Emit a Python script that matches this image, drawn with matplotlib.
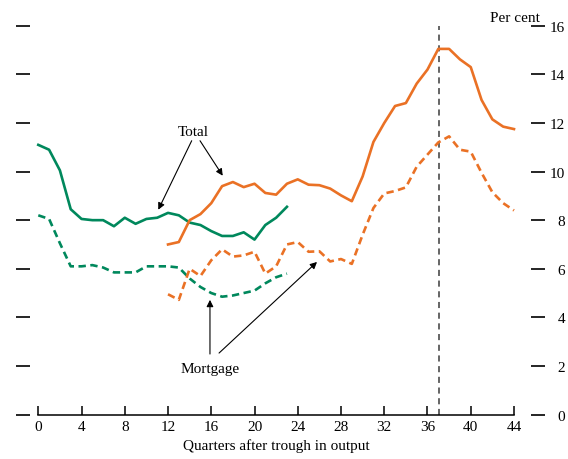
import matplotlib
matplotlib.use('Agg')
import matplotlib.pyplot as plt

plt.rcParams['font.family'] = ['Liberation Serif', 'DejaVu Serif']
plt.rcParams['font.size'] = 11

# first episode (green), quarters 0-23
q_first = list(range(0, 24))
total_first = [11.1, 10.9, 10.05, 8.45, 8.05, 8.0, 8.0, 7.75, 8.1, 7.85, 8.05, 8.1,
               8.3, 8.2, 7.9, 7.8, 7.55, 7.35, 7.35, 7.5, 7.2, 7.8, 8.1, 8.55]
mortgage_first = [8.2, 8.05, 7.05, 6.1, 6.1, 6.15, 6.05, 5.85, 5.85, 5.85, 6.1, 6.1,
                  6.1, 6.05, 5.6, 5.25, 5.0, 4.85, 4.9, 5.0, 5.1, 5.4, 5.65, 5.8]

# second episode (orange), quarters 12-44
q_second = list(range(12, 45))
total_second = [7.0, 7.1, 8.0, 8.25, 8.7, 9.4, 9.57, 9.36, 9.5, 9.12, 9.05, 9.5,
                9.68, 9.46, 9.44, 9.3, 9.02, 8.78, 9.8, 11.22, 12.0, 12.7, 12.82,
                13.62, 14.2, 15.05, 15.05, 14.62, 14.3, 12.95, 12.15, 11.85, 11.75]
mortgage_second = [4.95, 4.72, 6.0, 5.7, 6.35, 6.8, 6.5, 6.55, 6.7, 5.8, 6.1, 7.0,
                   7.1, 6.7, 6.72, 6.3, 6.4, 6.2, 7.4, 8.5, 9.1, 9.2, 9.35, 10.2,
                   10.7, 11.2, 11.45, 10.9, 10.82, 9.95, 9.15, 8.7, 8.4]

peak_quarter = 37.05
x_ticks = list(range(0, 45, 4))
y_ticks = list(range(0, 17, 2))

green = '#00885c'
orange = '#ea7125'
dash = (0, (2.8, 1.7))

fig = plt.figure(figsize=(5.68, 4.60), dpi=100)
ax = fig.add_axes([0.0674, 0.0967, 0.8375, 0.845])
ax.set_xlim(0, 44)
ax.set_ylim(0, 16)

ax.axvline(peak_quarter, color='#3a3a3a', lw=1.1, linestyle=(0, (4, 3)), zorder=1)

ax.plot(q_first, total_first, color=green, lw=1.9, clip_on=False, zorder=3)
ax.plot(q_first, mortgage_first, color=green, lw=1.9, linestyle=dash, clip_on=False, zorder=3)
ax.plot(q_second, total_second, color=orange, lw=1.9, clip_on=False, zorder=3)
ax.plot(q_second, mortgage_second, color=orange, lw=1.9, linestyle=dash, clip_on=False, zorder=3)

# spines and ticks
ax.spines['top'].set_visible(False)
ax.spines['left'].set_position(('outward', 6))
ax.spines['right'].set_position(('outward', 12))
ax.spines['left'].set_color('none')
ax.spines['right'].set_color('none')
ax.spines['bottom'].set_linewidth(1.1)

ax.set_xticks(x_ticks)
ax.set_yticks(y_ticks)
ax.tick_params(axis='x', direction='in', length=6.5, width=1.1, pad=4)
ax.tick_params(axis='y', direction='out', length=10, width=1.2, left=True, right=True,
               labelleft=False, labelright=True, pad=15)
for t in ax.yaxis.get_major_ticks():
    t.label2.set_horizontalalignment('right')

ax.set_xlabel('Quarters after trough in output', labelpad=4)
fig.text(540 / 568, 1 - 18 / 460, 'Per cent', ha='right', va='center')

# annotations
arrow = dict(arrowstyle='-|>', color='black', lw=0.8, mutation_scale=10, shrinkA=0, shrinkB=0)
ax.text(14.34, 11.64, 'Total', ha='center', va='center')
ax.annotate('', xy=(11.1, 8.43), xytext=(14.19, 11.27), arrowprops=arrow)
ax.annotate('', xy=(17.06, 9.83), xytext=(14.96, 11.27), arrowprops=arrow)
ax.text(15.88, 1.91, 'Mortgage', ha='center', va='center')
ax.annotate('', xy=(15.88, 4.72), xytext=(15.88, 2.49), arrowprops=arrow)
ax.annotate('', xy=(25.78, 6.28), xytext=(16.72, 2.53), arrowprops=arrow)

fig.savefig('out.png', dpi=100)
